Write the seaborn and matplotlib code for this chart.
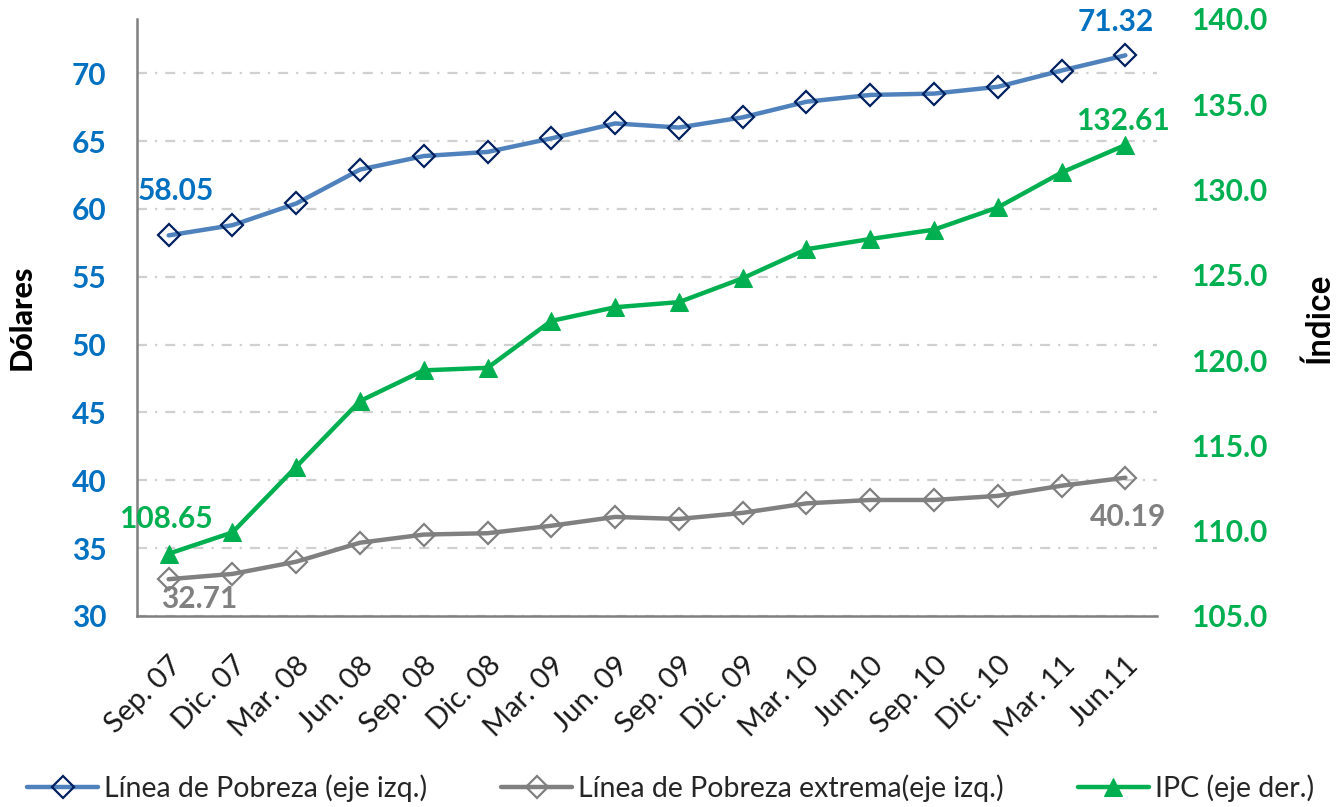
import matplotlib
matplotlib.use("Agg")
import matplotlib.pyplot as plt
import seaborn as sns
import pandas as pd
import numpy as np

categories = ["Sep. 07", "Dic. 07", "Mar. 08", "Jun. 08", "Sep. 08", "Dic. 08",
              "Mar. 09", "Jun. 09", "Sep. 09", "Dic. 09", "Mar. 10", "Jun.10",
              "Sep. 10", "Dic. 10", "Mar. 11", "Jun.11"]
pobreza = [58.05, 58.8, 60.4, 62.9, 63.9, 64.2, 65.2, 66.3, 66.0, 66.75,
           67.9, 68.4, 68.5, 69.0, 70.2, 71.32]
pobreza_ext = [32.71, 33.1, 34.0, 35.4, 36.0, 36.1, 36.65, 37.3, 37.15, 37.6,
               38.3, 38.55, 38.55, 38.85, 39.6, 40.19]
ipc = [108.65, 109.9, 113.75, 117.6, 119.4, 119.55, 122.3, 123.1, 123.4, 124.8,
       126.5, 127.1, 127.65, 128.95, 131.0, 132.61]
left_ticks = [30, 35, 40, 45, 50, 55, 60, 65, 70]
right_ticks = [105, 110, 115, 120, 125, 130, 135, 140]

labels = ["Línea de Pobreza (eje izq.)", "Línea de Pobreza extrema(eje izq.)", "IPC (eje der.)"]

BLUE_LINE = "#4F81BD"
NAVY = "#002060"
GRAY = "#808080"
GREEN = "#00B050"
BLUE_TXT = "#0070C0"

sns.set_theme(style="white")
plt.rcParams['font.family'] = ['Lato', 'DejaVu Sans']

df = pd.DataFrame({"x": np.arange(len(categories)), "pob": pobreza,
                   "ext": pobreza_ext, "ipc": ipc})

fig = plt.figure(figsize=(13.41, 8.07), dpi=100)
ax = fig.add_axes([0.102, 0.2367, 0.761, 0.7398])
ax2 = ax.twinx()

# gridlines
for t in left_ticks:
    ax.axhline(t, color="#D0D0D0", lw=1.6, dashes=(4.5, 3.6, 1, 3.6), zorder=0)

sns.lineplot(data=df, x="x", y="pob", ax=ax, color=BLUE_LINE, lw=3.2,
             marker="D", markersize=11.5, markerfacecolor="none",
             markeredgecolor=NAVY, markeredgewidth=1.6, label=labels[0], zorder=3)
sns.lineplot(data=df, x="x", y="ext", ax=ax, color=GRAY, lw=3.2,
             marker="D", markersize=11.5, markerfacecolor="none",
             markeredgecolor=GRAY, markeredgewidth=1.6, label=labels[1], zorder=3)
sns.lineplot(data=df, x="x", y="ipc", ax=ax2, color=GREEN, lw=3.2,
             marker="^", markersize=13, markerfacecolor=GREEN,
             markeredgecolor=GREEN, label=labels[2], zorder=3)

ax.set_xlim(-0.5, 15.5)
ax.set_ylim(30, 74)
ax2.set_ylim(105, 140)
ax.set_yticks(left_ticks)
ax2.set_yticks(right_ticks)
ax2.set_yticklabels([f"{t:.1f}" for t in right_ticks])
ax.set_xticks(df["x"])
ax.set_xticklabels(categories, rotation=45, ha="right", rotation_mode="anchor",
                   fontsize=21, color="#1a1a1a")

for lab in ax.get_yticklabels():
    lab.set_color(BLUE_TXT); lab.set_fontweight("bold"); lab.set_fontsize(21.5)
for lab in ax2.get_yticklabels():
    lab.set_color(GREEN); lab.set_fontweight("bold"); lab.set_fontsize(21.5)

ax.tick_params(axis="y", length=0, pad=22)
ax2.tick_params(axis="y", length=0, pad=24)
ax.tick_params(axis="x", length=0, pad=26)

for s in ["top", "right"]:
    ax.spines[s].set_visible(False)
    ax2.spines[s].set_visible(False)
ax2.spines["left"].set_visible(False)
ax2.spines["bottom"].set_visible(False)
for s in ["left", "bottom"]:
    ax.spines[s].set_color("#808080")
    ax.spines[s].set_linewidth(1.8)

ax.set_xlabel("")
ax.set_ylabel("Dólares", fontsize=22, fontweight="black", color="black", labelpad=26)
ax2.set_ylabel("Índice", fontsize=24, color="black", labelpad=26,
               family=["Roboto", "DejaVu Sans"], fontweight="medium")

# annotations
ann_kw = dict(textcoords="offset points", ha="center", va="center",
              fontsize=21.5, fontweight="bold")
ax.annotate(f"{pobreza[0]:.2f}", (0, pobreza[0]), xytext=(5, 32), color=BLUE_TXT, **ann_kw)
ax.annotate(f"{pobreza[-1]:.2f}", (15, pobreza[-1]), xytext=(-7, 24), color=BLUE_TXT, **ann_kw)
ax2.annotate(f"{ipc[-1]:.2f}", (15, ipc[-1]), xytext=(-2, 17), color=GREEN, **ann_kw)
ax2.annotate(f"{ipc[0]:.2f}", (0, ipc[0]), xytext=(-2, 25), color=GREEN, **ann_kw)
ax.annotate(f"{pobreza_ext[0]:.2f}", (0, pobreza_ext[0]), xytext=(22, -14), color=GRAY, **ann_kw)
ax.annotate(f"{pobreza_ext[-1]:.2f}", (15, pobreza_ext[-1]), xytext=(2, -28), color=GRAY, **ann_kw)

h1, l1 = ax.get_legend_handles_labels()
h2, l2 = ax2.get_legend_handles_labels()
if ax.get_legend(): ax.get_legend().remove()
if ax2.get_legend(): ax2.get_legend().remove()
fig.legend(h1 + h2, l1 + l2, loc="lower center", bbox_to_anchor=(0.5, -0.025),
           ncol=3, frameon=False, fontsize=20.5, handlelength=2.5, columnspacing=2.6,
           handletextpad=0.2)

fig.savefig("out.png", dpi=100)
